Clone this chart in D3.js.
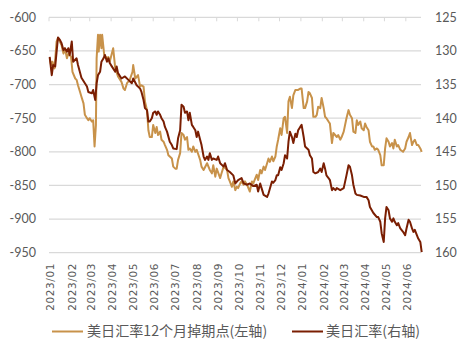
<!DOCTYPE html>
<html><head><meta charset="utf-8">
<script src="https://cdn.jsdelivr.net/npm/d3@7/dist/d3.min.js"></script>
<style>
html,body{margin:0;padding:0;background:#fff;}
svg{display:block;}
</style>
</head><body>
<svg id="c" width="466" height="355"></svg>
<script>
const fwdDates = ["2023-01-02","2023-01-04","2023-01-06","2023-01-09","2023-01-12","2023-01-14","2023-01-19","2023-01-22","2023-01-24","2023-01-27","2023-01-29","2023-02-02","2023-02-04","2023-02-08","2023-02-10","2023-02-12","2023-02-15","2023-02-17","2023-02-20","2023-02-22","2023-02-25","2023-02-27","2023-03-01","2023-03-04","2023-03-06","2023-03-08","2023-03-10","2023-03-11","2023-03-13","2023-03-14","2023-03-16","2023-03-18","2023-03-19","2023-03-22","2023-03-26","2023-03-28","2023-03-30","2023-04-04","2023-04-07","2023-04-11","2023-04-16","2023-04-19","2023-04-21","2023-04-24","2023-04-28","2023-05-02","2023-05-03","2023-05-06","2023-05-10","2023-05-13","2023-05-15","2023-05-18","2023-05-20","2023-05-23","2023-05-25","2023-05-27","2023-05-30","2023-06-01","2023-06-04","2023-06-06","2023-06-08","2023-06-11","2023-06-13","2023-06-16","2023-06-18","2023-06-21","2023-06-23","2023-06-25","2023-06-28","2023-06-30","2023-07-03","2023-07-05","2023-07-07","2023-07-10","2023-07-12","2023-07-15","2023-07-17","2023-07-20","2023-07-22","2023-07-24","2023-07-27","2023-07-29","2023-08-01","2023-08-03","2023-08-08","2023-08-10","2023-08-13","2023-08-18","2023-08-22","2023-08-25","2023-08-27","2023-08-30","2023-09-01","2023-09-06","2023-09-08","2023-09-11","2023-09-16","2023-09-18","2023-09-20","2023-09-23","2023-09-25","2023-09-28","2023-09-30","2023-10-02","2023-10-05","2023-10-07","2023-10-10","2023-10-12","2023-10-15","2023-10-19","2023-10-22","2023-10-24","2023-10-27","2023-10-29","2023-10-31","2023-11-03","2023-11-05","2023-11-08","2023-11-10","2023-11-13","2023-11-15","2023-11-17","2023-11-20","2023-11-22","2023-11-25","2023-11-27","2023-11-29","2023-12-02","2023-12-04","2023-12-07","2023-12-09","2023-12-12","2023-12-14","2023-12-16","2023-12-19","2023-12-21","2023-12-24","2023-12-28","2023-12-31","2024-01-02","2024-01-05","2024-01-07","2024-01-10","2024-01-12","2024-01-14","2024-01-17","2024-01-19","2024-01-22","2024-01-24","2024-01-26","2024-01-29","2024-01-31","2024-02-03","2024-02-05","2024-02-07","2024-02-10","2024-02-12","2024-02-15","2024-02-17","2024-02-22","2024-02-24","2024-02-27","2024-02-29","2024-03-03","2024-03-07","2024-03-10","2024-03-12","2024-03-15","2024-03-17","2024-03-20","2024-03-22","2024-03-24","2024-03-27","2024-03-29","2024-04-01","2024-04-03","2024-04-05","2024-04-08","2024-04-10","2024-04-13","2024-04-15","2024-04-17","2024-04-20","2024-04-22","2024-04-25","2024-04-27","2024-04-30","2024-05-02","2024-05-04","2024-05-07","2024-05-09","2024-05-12","2024-05-14","2024-05-16","2024-05-19","2024-05-21","2024-05-24","2024-05-28","2024-05-31","2024-06-02","2024-06-05","2024-06-07","2024-06-10","2024-06-12","2024-06-14","2024-06-17","2024-06-19","2024-06-22","2024-06-24"];
const fwdPoints = [-661,-671,-666,-676,-636,-631,-641,-654,-646,-661,-654,-659,-681,-691,-693,-701,-711,-718,-728,-745,-750,-753,-750,-755,-753,-792,-760,-661,-626,-651,-626,-646,-626,-656,-661,-659,-666,-646,-676,-688,-696,-706,-708,-698,-693,-681,-671,-691,-686,-703,-701,-703,-725,-738,-768,-778,-778,-760,-772,-763,-775,-770,-782,-785,-790,-797,-805,-807,-810,-822,-825,-825,-812,-802,-772,-775,-782,-778,-797,-795,-800,-792,-800,-797,-812,-822,-827,-817,-827,-832,-820,-837,-825,-839,-832,-822,-827,-839,-844,-852,-844,-857,-852,-854,-847,-844,-849,-844,-849,-859,-844,-847,-839,-834,-842,-827,-832,-822,-827,-817,-810,-815,-807,-814,-807,-792,-782,-765,-775,-750,-748,-772,-725,-718,-735,-716,-708,-708,-706,-706,-735,-735,-725,-711,-713,-720,-748,-748,-745,-733,-735,-720,-735,-748,-750,-755,-758,-787,-772,-778,-775,-782,-778,-770,-750,-738,-745,-750,-770,-772,-753,-760,-755,-765,-768,-758,-763,-768,-785,-792,-792,-797,-795,-797,-805,-820,-820,-795,-780,-785,-792,-787,-795,-782,-792,-790,-797,-800,-795,-785,-778,-772,-790,-785,-782,-790,-790,-795,-800];

const fxDates = ["2023-01-02","2023-01-05","2023-01-07","2023-01-10","2023-01-14","2023-01-17","2023-01-19","2023-01-22","2023-01-24","2023-01-27","2023-01-29","2023-01-31","2023-02-03","2023-02-05","2023-02-10","2023-02-12","2023-02-17","2023-02-22","2023-02-25","2023-02-27","2023-03-04","2023-03-06","2023-03-09","2023-03-11","2023-03-13","2023-03-16","2023-03-18","2023-03-21","2023-03-23","2023-03-26","2023-03-28","2023-03-30","2023-04-02","2023-04-07","2023-04-09","2023-04-11","2023-04-16","2023-04-21","2023-04-26","2023-05-01","2023-05-03","2023-05-08","2023-05-13","2023-05-15","2023-05-18","2023-05-20","2023-05-23","2023-05-25","2023-05-27","2023-05-30","2023-06-01","2023-06-04","2023-06-06","2023-06-08","2023-06-11","2023-06-13","2023-06-16","2023-06-18","2023-06-21","2023-06-25","2023-06-28","2023-06-30","2023-07-05","2023-07-07","2023-07-10","2023-07-12","2023-07-15","2023-07-17","2023-07-20","2023-07-22","2023-07-24","2023-07-27","2023-07-29","2023-08-01","2023-08-03","2023-08-05","2023-08-08","2023-08-10","2023-08-13","2023-08-15","2023-08-18","2023-08-20","2023-08-22","2023-08-25","2023-08-27","2023-09-01","2023-09-03","2023-09-06","2023-09-11","2023-09-13","2023-09-16","2023-09-20","2023-09-25","2023-09-28","2023-10-02","2023-10-07","2023-10-10","2023-10-15","2023-10-19","2023-10-24","2023-10-29","2023-10-31","2023-11-03","2023-11-05","2023-11-08","2023-11-13","2023-11-15","2023-11-17","2023-11-20","2023-11-22","2023-11-25","2023-11-27","2023-11-29","2023-12-02","2023-12-04","2023-12-07","2023-12-09","2023-12-12","2023-12-14","2023-12-16","2023-12-19","2023-12-21","2023-12-24","2023-12-26","2023-12-28","2023-12-31","2024-01-02","2024-01-05","2024-01-07","2024-01-10","2024-01-12","2024-01-14","2024-01-17","2024-01-19","2024-01-22","2024-01-26","2024-01-29","2024-01-31","2024-02-03","2024-02-05","2024-02-07","2024-02-10","2024-02-12","2024-02-15","2024-02-17","2024-02-20","2024-02-22","2024-02-27","2024-03-03","2024-03-07","2024-03-10","2024-03-12","2024-03-15","2024-03-17","2024-03-20","2024-03-22","2024-03-27","2024-04-01","2024-04-05","2024-04-08","2024-04-10","2024-04-15","2024-04-20","2024-04-22","2024-04-25","2024-04-27","2024-04-30","2024-05-02","2024-05-04","2024-05-07","2024-05-09","2024-05-12","2024-05-14","2024-05-16","2024-05-19","2024-05-21","2024-05-24","2024-05-28","2024-05-31","2024-06-02","2024-06-05","2024-06-07","2024-06-10","2024-06-12","2024-06-14","2024-06-17","2024-06-19","2024-06-22","2024-06-24"];
const fxRates = [130.9,133.6,132.1,132.3,128.0,128.4,128.8,129.9,129.6,130.1,129.6,130.6,128.6,131.6,131.1,132.1,134.0,134.8,135.3,136.1,136.3,135.8,137.3,134.8,133.6,133.1,131.6,131.1,130.6,131.6,131.1,131.8,132.3,133.1,132.3,133.3,134.1,133.8,134.3,134.8,134.1,135.1,135.6,136.1,137.3,138.5,138.8,140.5,140.5,140.0,139.2,139.0,139.5,139.0,139.5,140.0,140.5,141.3,142.0,143.5,144.0,144.5,144.6,143.0,141.8,138.0,138.3,139.2,139.0,140.3,139.2,141.0,141.3,141.8,142.8,142.0,143.2,144.0,145.7,146.2,145.7,146.2,145.2,146.2,146.0,146.2,145.7,146.7,147.2,146.7,147.7,148.0,148.5,149.7,149.2,148.9,149.7,149.9,149.7,150.1,149.9,150.9,149.7,150.4,151.4,151.7,151.2,150.5,149.4,149.6,149.2,148.5,148.5,147.3,147.7,146.7,145.5,146.0,143.5,142.0,142.8,143.7,142.3,142.8,141.8,141.3,141.0,142.8,144.2,144.5,144.7,145.5,146.0,148.0,148.2,148.0,147.5,148.0,146.7,147.5,148.5,148.9,149.2,150.7,150.4,150.7,150.4,150.7,150.4,148.5,147.0,147.2,148.5,149.9,151.2,151.4,151.5,151.7,151.7,152.2,153.2,154.1,154.7,154.7,155.4,157.1,158.4,154.9,153.2,153.7,154.9,155.4,154.9,155.4,155.9,155.6,156.4,156.9,157.4,156.4,155.1,155.4,156.4,156.9,156.6,157.4,157.9,158.4,159.9];

const leftTicks = [-600,-650,-700,-750,-800,-850,-900,-950];
const rightTicks = [125,130,135,140,145,150,155,160];
const legendLabels = ["美日汇率12个月掉期点(左轴)","美日汇率(右轴)"];
const colors = ["#C8924A","#7A1E02"];

const parse = d3.timeParse("%Y-%m-%d");
const svg = d3.select("#c");
const x0 = 49, x1 = 421.7, yTop = 17.3, yBot = 252.7;

const x = d3.scaleTime().domain([new Date(2023,0,1), new Date(2024,5,24)]).range([x0, x1]);
const yL = d3.scaleLinear().domain([-600,-950]).range([yTop, yBot]);
const yR = d3.scaleLinear().domain([125,160]).range([yTop, yBot]);

// gridlines
svg.append("g").selectAll("line").data(leftTicks).join("line")
  .attr("x1", x0).attr("x2", 421).attr("y1", d=>yL(d)).attr("y2", d=>yL(d))
  .attr("stroke", "#D9D9D9").attr("stroke-width", 1.2);

// month ticks at top
const months = d3.timeMonth.range(new Date(2023,0,1), new Date(2024,6,1));
svg.append("g").selectAll("line").data(months).join("line")
  .attr("x1", d=>x(d)).attr("x2", d=>x(d)).attr("y1", yTop).attr("y2", yTop+4)
  .attr("stroke", "#D9D9D9").attr("stroke-width", 1);

const fmt = d3.timeFormat("%Y/%m");
svg.append("g").selectAll("text").data(months).join("text")
  .attr("transform", d=>`translate(${x(d)+1.5},263) rotate(-90)`)
  .attr("text-anchor", "end").attr("dy", "0.36em")
  .attr("font-family", "'DejaVu Sans', sans-serif").attr("font-size", 10.5)
  .attr("letter-spacing", 0.6)
  .attr("fill", "#595959").text(fmt);

// left labels
svg.append("g").selectAll("text").data(leftTicks).join("text")
  .attr("x", 36).attr("y", d=>yL(d)).attr("dy", "0.35em").attr("text-anchor", "end")
  .attr("font-family", "Lato, sans-serif").attr("font-size", 12.5).attr("fill", "#595959")
  .text(d=>d);
// right labels
svg.append("g").selectAll("text").data(rightTicks).join("text")
  .attr("x", 435).attr("y", d=>yR(d)).attr("dy", "0.35em").attr("text-anchor", "start")
  .attr("font-family", "Lato, sans-serif").attr("font-size", 12.5).attr("fill", "#595959")
  .text(d=>d);

const fwd = fwdDates.map((d,i)=>({d:parse(d), v:fwdPoints[i]}));
const fx = fxDates.map((d,i)=>({d:parse(d), v:fxRates[i]}));

svg.append("path").datum(fwd)
  .attr("d", d3.line().x(p=>x(p.d)).y(p=>yL(p.v)))
  .attr("fill","none").attr("stroke", colors[0]).attr("stroke-width", 2).attr("stroke-linejoin","round");
svg.append("path").datum(fx)
  .attr("d", d3.line().x(p=>x(p.d)).y(p=>yR(p.v)))
  .attr("fill","none").attr("stroke", colors[1]).attr("stroke-width", 2).attr("stroke-linejoin","round");

// legend
const lg = svg.append("g").attr("font-family", "'Noto Sans CJK SC', sans-serif").attr("font-size", 14.1).attr("fill", "#595959");
const legendPos = [{lx:52, tx:87}, {lx:292, tx:326}];
legendLabels.forEach((t,i)=>{
  lg.append("line").attr("x1", legendPos[i].lx).attr("x2", legendPos[i].lx+31)
    .attr("y1", 331.5).attr("y2", 331.5).attr("stroke", colors[i]).attr("stroke-width", 2);
  lg.append("text").attr("x", legendPos[i].tx).attr("y", 331.5).attr("dy","0.35em").text(t);
});
</script>
</body></html>
